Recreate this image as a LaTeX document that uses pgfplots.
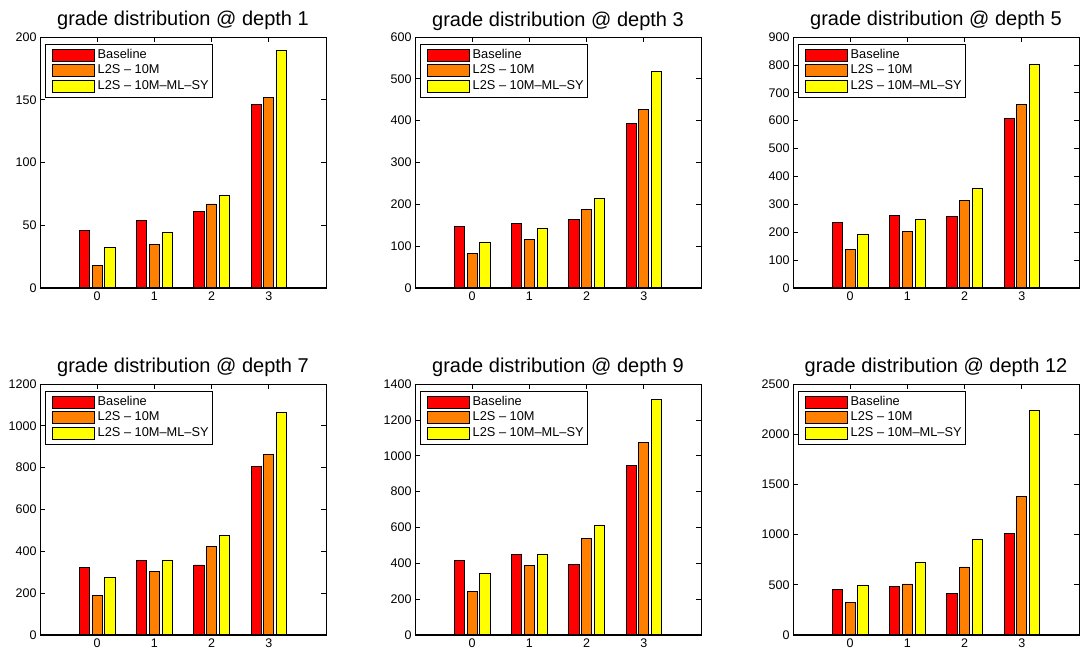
\documentclass[border=0pt]{standalone}
\usepackage{fontspec}
\setmainfont{Liberation Sans}
\usepackage{pgfplots}
\pgfplotsset{compat=1.18}
\definecolor{mred}{HTML}{FF0000}
\definecolor{morange}{HTML}{FF8000}
\definecolor{myellow}{HTML}{FFFF00}
\pgfplotsset{
  panel/.style={
    scale only axis, width=286pt, height=251pt,
    xmin=-1, xmax=4, ymin=0,
    xtick={0,1,2,3},
    tick align=inside, major tick length=5pt,
    axis line style={line width=0.8pt},
    every tick/.style={black, line width=0.7pt},
    ticklabel style={font=\fontsize{12.5}{14}\selectfont},
    /pgf/number format/assume math mode=true,
    /pgf/number format/1000 sep={},
    title style={font=\fontsize{20}{24}\selectfont, at={(0.5,1)}, anchor=base, yshift=5pt},
    legend style={at={(0.0175,0.972)}, anchor=north west, draw=black, line width=0.8pt,
      font=\fontsize{12.8}{14}\selectfont, inner xsep=2pt, inner ysep=3pt, row sep=0pt, column sep=1pt,
      nodes={inner sep=1.5pt, text height=9.5pt, text depth=3pt}},
    legend cell align=left,
    legend image code/.code={\path (0pt,0pt); \draw[##1,/tikz/.cd,draw=black,line width=0.8pt] (5pt,-6pt) rectangle (47pt,6pt);},
  },
  sA/.style={ybar, bar width=0.1778, bar shift=-0.2222, fill=mred, draw=black, line width=0.8pt},
  sB/.style={ybar, bar width=0.1778, bar shift=0, fill=morange, draw=black, line width=0.8pt},
  sC/.style={ybar, bar width=0.1778, bar shift=0.2222, fill=myellow, draw=black, line width=0.8pt},
  base/.style={black, line width=1.6pt, forget plot},
}
\newcommand{\ttl}[1]{grade distribution @ depth #1}
\newcommand{\leg}{\legend{Baseline, L2S – 10M, L2S – 10M–ML–SY}}
\begin{document}
\begin{tikzpicture}
\path[use as bounding box] (0pt,0pt) rectangle (1080pt,656pt);
% depth 1
\begin{axis}[panel, at={(40pt,368pt)}, anchor=south west, ymax=200, ytick={0,50,...,200}, title={\ttl{1}}]
\addplot[sA] coordinates {(0,46) (1,54) (2,61) (3,146)};
\addplot[sB] coordinates {(0,18) (1,35) (2,67) (3,152)};
\addplot[sC] coordinates {(0,32) (1,44) (2,74) (3,189)};
\addplot[base] coordinates {(-1,0) (4,0)};
\leg
\end{axis}
% depth 3
\begin{axis}[panel, at={(415pt,368pt)}, anchor=south west, ymax=600, ytick={0,100,...,600}, title={\ttl{3}}]
\addplot[sA] coordinates {(0,147) (1,154) (2,164) (3,394)};
\addplot[sB] coordinates {(0,82) (1,115) (2,187) (3,427)};
\addplot[sC] coordinates {(0,110) (1,142) (2,213) (3,518)};
\addplot[base] coordinates {(-1,0) (4,0)};
\leg
\end{axis}
% depth 5
\begin{axis}[panel, at={(793pt,368pt)}, anchor=south west, ymax=900, ytick={0,100,...,900}, title={\ttl{5}}]
\addplot[sA] coordinates {(0,235) (1,260) (2,255) (3,609)};
\addplot[sB] coordinates {(0,139) (1,204) (2,313) (3,657)};
\addplot[sC] coordinates {(0,192) (1,245) (2,356) (3,800)};
\addplot[base] coordinates {(-1,0) (4,0)};
\leg
\end{axis}
% depth 7
\begin{axis}[panel, at={(40pt,21pt)}, anchor=south west, ymax=1200, ytick={0,200,...,1200}, title={\ttl{7}}]
\addplot[sA] coordinates {(0,324) (1,355) (2,335) (3,807)};
\addplot[sB] coordinates {(0,189) (1,302) (2,425) (3,865)};
\addplot[sC] coordinates {(0,273) (1,359) (2,476) (3,1064)};
\addplot[base] coordinates {(-1,0) (4,0)};
\leg
\end{axis}
% depth 9
\begin{axis}[panel, at={(415pt,21pt)}, anchor=south west, ymax=1400, ytick={0,200,...,1400}, title={\ttl{9}}]
\addplot[sA] coordinates {(0,414) (1,447) (2,391) (3,945)};
\addplot[sB] coordinates {(0,243) (1,386) (2,537) (3,1072)};
\addplot[sC] coordinates {(0,341) (1,451) (2,614) (3,1316)};
\addplot[base] coordinates {(-1,0) (4,0)};
\leg
\end{axis}
% depth 12
\begin{axis}[panel, at={(793pt,21pt)}, anchor=south west, ymax=2500, ytick={0,500,...,2500}, title={\ttl{12}}]
\addplot[sA] coordinates {(0,458) (1,481) (2,418) (3,1013)};
\addplot[sB] coordinates {(0,321) (1,508) (2,678) (3,1377)};
\addplot[sC] coordinates {(0,498) (1,719) (2,949) (3,2233)};
\addplot[base] coordinates {(-1,0) (4,0)};
\leg
\end{axis}
\end{tikzpicture}
\end{document}
